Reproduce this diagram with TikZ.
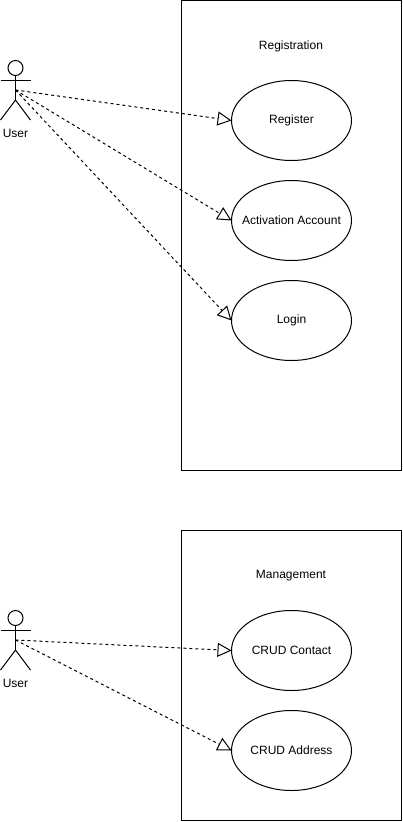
\documentclass[tikz,border=0pt]{standalone}
\usepackage{fontspec}
\setmainfont{Liberation Sans}
\usetikzlibrary{arrows.meta,shapes.geometric}
\newcommand{\nowide}[1]{\makebox[0pt]{#1}}
\begin{document}
\begin{tikzpicture}[x=1pt,y=-1pt,line width=1pt,
  sysbox/.style={draw,minimum width=220pt,anchor=north west,inner sep=0pt,outer sep=0pt},
  usecase/.style={draw,ellipse,minimum width=120pt,minimum height=80pt,inner sep=0pt,outer sep=0pt,font=\fontsize{12}{14}\selectfont},
  lbl/.style={font=\fontsize{12}{14}\selectfont,inner sep=0pt},
  dep/.style={dash pattern=on 3pt off 3pt,-{Triangle[open,length=14pt,width=14pt,line width=1pt]}}]
\useasboundingbox (0,0) rectangle (403,822);
\node[sysbox,minimum height=470pt] (s1) at (181.5,0.5) {};
\node[sysbox,minimum height=290pt] (s2) at (181.5,530.5) {};
\node[lbl] (t1) at (291,46) {Registration};
\node[lbl] (t2) at (291,576) {Management};
\node[usecase] (r) at (291.5,120.5) {\nowide{Register}};
\node[usecase] (a) at (291.5,220.5) {\nowide{Activation Account}};
\node[usecase] (l) at (291.5,320.5) {\nowide{Login}};
\node[usecase] (c) at (291.5,650.5) {\nowide{CRUD Contact}};
\node[usecase] (d) at (291.5,750.5) {\nowide{CRUD Address}};
\coordinate (u1) at (15.5,90);
\coordinate (u2) at (15.5,640);
\foreach \y in {60,610}{
  \draw (15.5,\y+8) circle (7.5pt);
  \draw (15.5,\y+15.5) -- (15.5,\y+40);
  \draw (0.5,\y+20) -- (30.5,\y+20);
  \draw (0.5,\y+60) -- (15.5,\y+40) -- (30.5,\y+60);
}
\node[lbl] (n1) at (15.5,133.5) {User};
\node[lbl] (n2) at (15.5,683.5) {User};
\draw[dep] (u1) -- (r.west);
\draw[dep] (u1) -- (a.west);
\draw[dep] (u1) -- (l.west);
\draw[dep] (u2) -- (c.west);
\draw[dep] (u2) -- (d.west);
\end{tikzpicture}
\end{document}
